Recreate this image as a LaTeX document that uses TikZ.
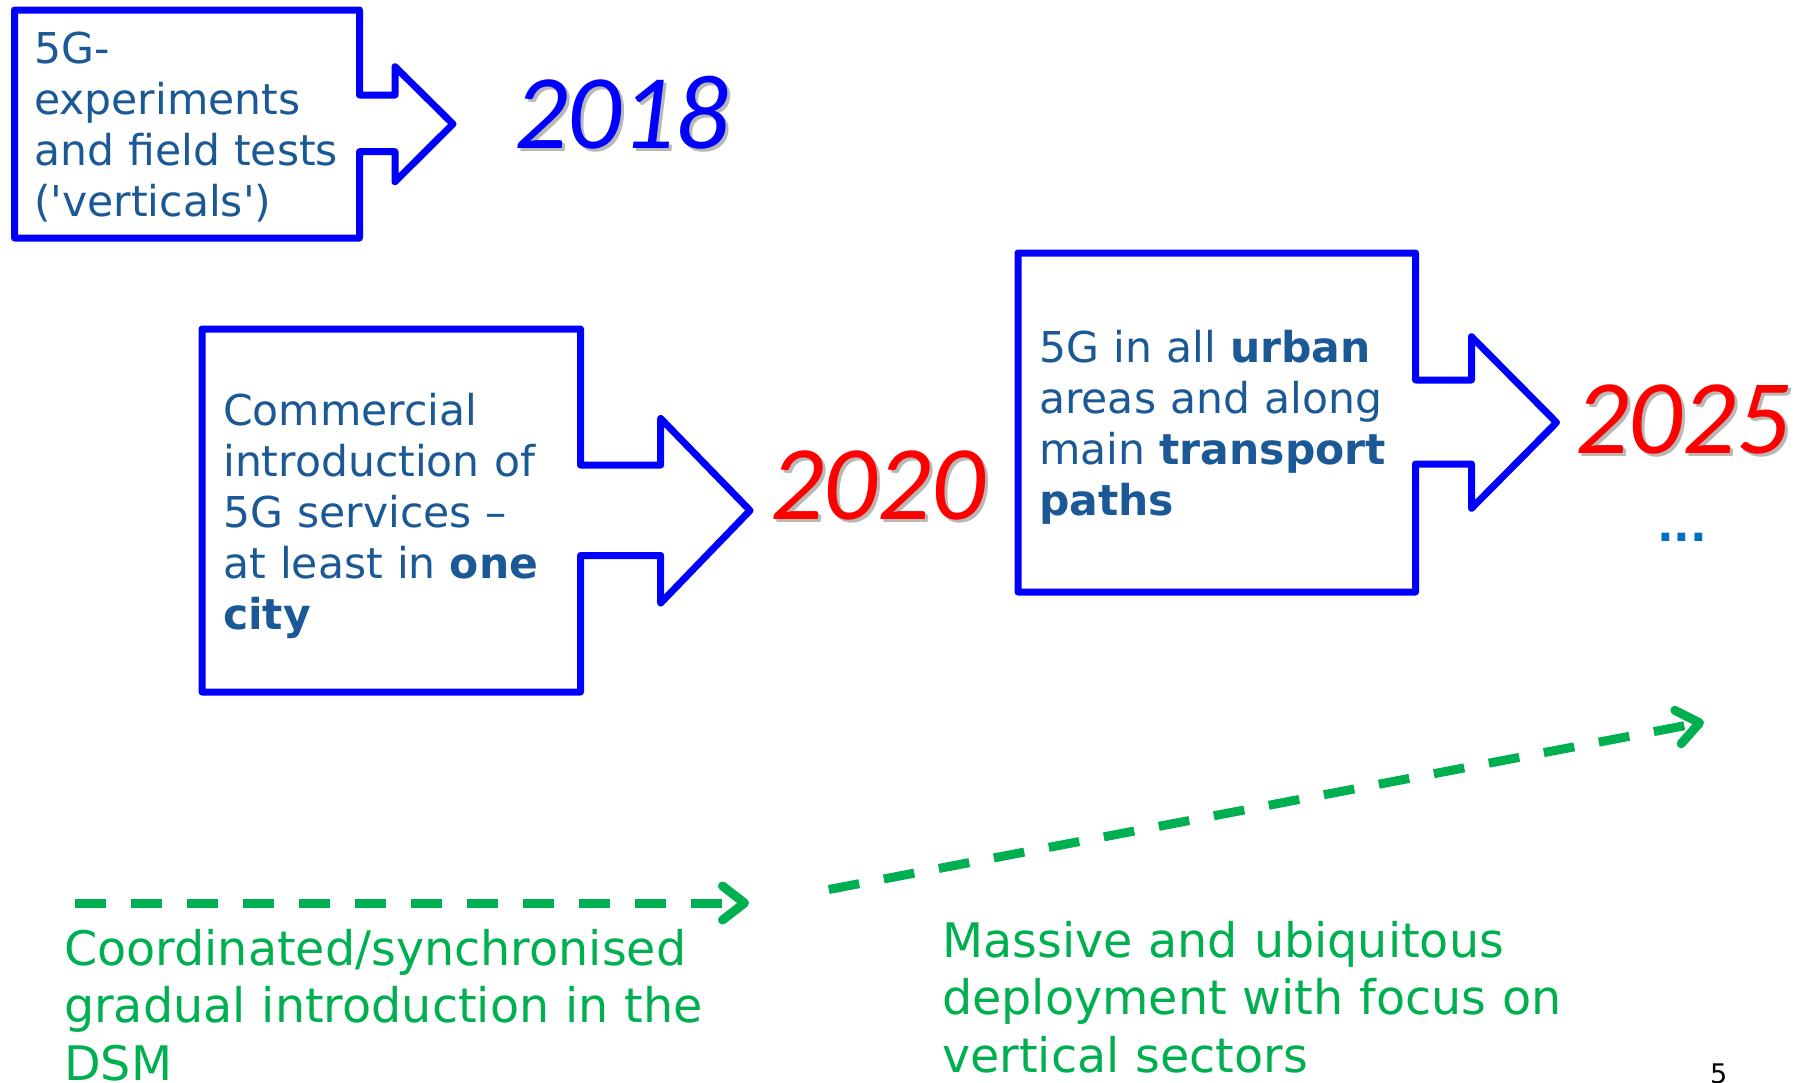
\documentclass[tikz,border=0pt]{standalone}
\usepackage{fontspec}
\setmainfont{DejaVu Sans}
\newfontfamily\rawfont{DejaVu Sans}
\newfontfamily\yearfont{Carlito}
\usetikzlibrary{arrows.meta}
\definecolor{boxblue}{RGB}{0,0,255}
\definecolor{txtblue}{RGB}{27,88,150}
\definecolor{dotblue}{RGB}{0,112,192}
\definecolor{grn}{RGB}{0,176,80}
\definecolor{yred}{RGB}{255,0,0}
\newcommand{\sq}{{\rawfont'}}
\begin{document}
\begin{tikzpicture}[x=1pt,y=-1pt,
  arrowbox/.style={draw=boxblue, line width=7pt, line join=round},
  boxtext/.style={anchor=base west, inner sep=0pt, align=left, text width=420pt, text=txtblue, font=\fontsize{42.5}{51}\selectfont},
  greentext/.style={anchor=base west, inner sep=0pt, align=left, text width=820pt, text=grn, font=\fontsize{47.6}{57.5}\selectfont},
  yeartext/.style={anchor=base west, inner sep=0pt, font=\yearfont\itshape\fontsize{106}{106}\selectfont},
  shadowtext/.style={yeartext, text=black!28},
  greenarrow/.style={draw=grn, line width=9pt, dash pattern=on 31pt off 25pt, -{Straight Barb[length=22pt,width=34pt,round]}}
]
\useasboundingbox (0,0) rectangle (1802,1082);
\fill[white] (0,0) rectangle (1802,1082);

% arrow boxes
\draw[arrowbox] (14.5,10) -- (359.5,10) -- (359.5,95) -- (395,95) -- (395,66.7) -- (453,124) -- (395,181.7) -- (395,151.7) -- (359.5,151.7) -- (359.5,238) -- (14.5,238) -- cycle;
\draw[arrowbox] (202,329) -- (580.5,329) -- (580.5,465) -- (660.7,465) -- (660.7,418.5) -- (750,510.5) -- (660.7,603) -- (660.7,555.5) -- (580.5,555.5) -- (580.5,692) -- (202,692) -- cycle;
\draw[arrowbox] (1018,253) -- (1415.5,253) -- (1415.5,380) -- (1471.5,380) -- (1471.5,336.7) -- (1556.5,422.5) -- (1471.5,508.3) -- (1471.5,464) -- (1415.5,464) -- (1415.5,592) -- (1018,592) -- cycle;

% box texts
\node[boxtext] (t1) at (34,63.5) {5G-\\experiments\\and field tests\\(\sq verticals\sq)};
\node[boxtext] (t2) at (223,425) {Commercial\\introduction of\\5G services --\\at least in \textbf{one}\\\textbf{city}};
\node[boxtext] (t3) at (1039,362) {5G in all \textbf{urban}\\areas and along\\main \textbf{transport}\\\textbf{paths}};

% years
\node[shadowtext] at (517,151.5) {2018};
\node[yeartext, text=boxblue] (y2018) at (514,148.5) {2018};
\node[shadowtext] at (773,522.5) {2020};
\node[yeartext, text=yred] (y2020) at (770,519.5) {2020};
\node[shadowtext] at (1578,456.5) {2025};
\node[yeartext, text=yred] (y2025) at (1575,453.5) {2025};

\node[anchor=base west, inner sep=0pt, text=dotblue, font=\bfseries\fontsize{44}{51}\selectfont] (dots) at (1657,541) {...};

% green arrows
\coordinate (g1s) at (74.6,903);
\coordinate (g1e) at (749,903);
\coordinate (g2s) at (828.8,889.5);
\coordinate (g2e) at (1704,722);
\draw[greenarrow] (g1s) -- (g1e);
\draw[greenarrow] (g2s) -- (g2e);

\node[greentext] (gt1) at (64,965) {Coordinated/synchronised\\gradual introduction in the\\DSM};
\node[greentext] (gt2) at (942,957) {Massive and ubiquitous\\deployment with focus on\\vertical sectors};

\node[anchor=base west, inner sep=0pt, text=black, font=\fontsize{27}{30}\selectfont] (pg) at (1710,1083) {5};
\end{tikzpicture}
\end{document}
